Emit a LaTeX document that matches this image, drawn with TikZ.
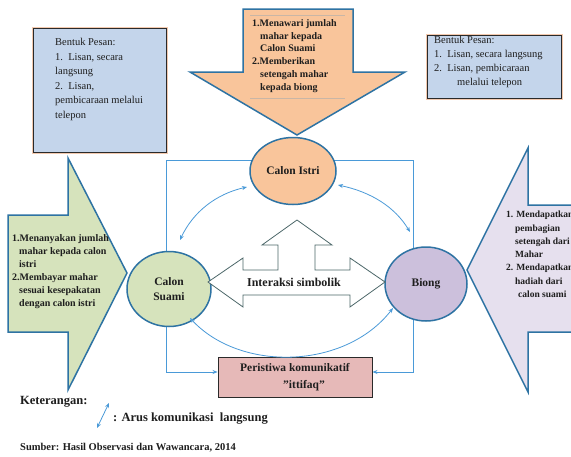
\documentclass[tikz,border=0pt]{standalone}
\usepackage{fontspec}
\setmainfont{Liberation Serif}
\usetikzlibrary{arrows.meta,shapes.geometric,backgrounds}
\definecolor{boxblue}{HTML}{C4D5EB}
\definecolor{boxline}{HTML}{2A2A2A}
\definecolor{glow}{HTML}{F3C9AE}
\definecolor{fillorange}{HTML}{F9C59B}
\definecolor{fillgreen}{HTML}{D6E3BC}
\definecolor{filllav}{HTML}{E6E0EE}
\definecolor{ellav}{HTML}{CCC0DC}
\definecolor{fillpink}{HTML}{E6B9B8}
\definecolor{shapeline}{HTML}{2E73A3}
\definecolor{flow}{HTML}{4A9AD8}
\definecolor{symline}{HTML}{4B6668}
\definecolor{rule}{HTML}{C9B6A6}
\definecolor{ink}{HTML}{1E1E1E}
\begin{document}
\begin{tikzpicture}[x=1pt,y=-1pt,
  bigarrow/.style={line width=1.5pt, draw=shapeline, line join=miter},
  ell/.style={ellipse, draw=shapeline, line width=1.5pt, inner sep=0pt, text=ink,
    font=\fontsize{11.5}{15}\selectfont\bfseries, align=center},
  bluebox/.style={draw=boxline, line width=0.9pt, fill=boxblue},
  flowline/.style={draw=flow, line width=0.8pt},
  twoway/.style={flowline, {Stealth[length=5pt,width=4pt]}-{Stealth[length=5pt,width=4pt]}},
  oneway/.style={flowline, -{Stealth[length=5pt,width=4pt]}},
  txt/.style={inner sep=0pt, anchor=north west, align=left, text=ink},
  boxtxt/.style={txt, font=\fontsize{10.5}{14.5}\selectfont},
  boldtxt/.style={txt, font=\fontsize{10}{12.9}\selectfont\bfseries},
]
\useasboundingbox (0,0) rectangle (571,456);
\clip (0,0) rectangle (571,456);

% big arrows
\draw[bigarrow, fill=fillgreen] (8,215) -- (68,215) -- (68,158) -- (127,273) -- (68,390) -- (68,332) -- (8,332) -- cycle;
\draw[bigarrow, fill=filllav] (590,205) -- (528,205) -- (528,148) -- (467,270) -- (528,392) -- (528,332) -- (590,332);
\draw[bigarrow, fill=fillorange] (243,9) -- (353,9) -- (353,72) -- (405,72) -- (297,135) -- (190,72) -- (243,72) -- cycle;
\draw[rule, line width=0.5pt] (250,15) -- (345,15);
\draw[rule, line width=0.5pt] (250,98) -- (345,98);

% blue boxes
\fill[glow] (31.5,26.5) rectangle (167.5,153.5);
\draw[bluebox] (33,28) rectangle (166,152);
\fill[glow] (425.5,33.5) rectangle (562.5,99.5);
\draw[bluebox] (427,35) rectangle (561,98);

\node[boxtxt] (leftmsg) at (55,38.5) {Bentuk Pesan:\\1.\ \ Lisan, secara\\langsung\\2.\ \ Lisan,\\pembicaraan melalui\\telepon};
\node[txt, font=\fontsize{10.5}{13.7}\selectfont] (rightmsg) at (434,36.5) {Bentuk Pesan:\\1.\ \ Lisan, secara langsung\\2.\ \ Lisan, pembicaraan\\\hspace*{23pt}melalui telepon};

\node[boldtxt] (istrimsg) at (252,19) {1.Menawari jumlah\\\hspace*{8pt}mahar kepada\\\hspace*{8pt}Calon Suami\\2.Memberikan\\\hspace*{8pt}setengah mahar\\\hspace*{8pt}kepada biong};
\node[boldtxt, font=\fontsize{10}{13}\selectfont\bfseries] (suamimsg) at (12,234) {1.Menanyakan jumlah\\\hspace*{7pt}mahar kepada calon\\\hspace*{7pt}istri\\2.Membayar mahar\\\hspace*{7pt}sesuai kesepakatan\\\hspace*{7pt}dengan calon istri};
\node[boldtxt, font=\fontsize{9.5}{13.3}\selectfont\bfseries] (biongmsg) at (506,211) {1. Mendapatkan\\\hspace*{9pt}pembagian\\\hspace*{9pt}setengah dari\\\hspace*{9pt}Mahar\\2. Mendapatkan\\\hspace*{9pt}hadiah dari\\\hspace*{12pt}calon suami};

% main nodes
\node[ell, fill=fillorange, minimum width=86pt, minimum height=67pt] (istri) at (293,171) {Calon Istri};
\node[ell, fill=fillgreen, minimum width=84pt, minimum height=75pt] (suami) at (169,289) {Calon\\Suami};
\node[ell, fill=ellav, minimum width=82pt, minimum height=74pt] (biong) at (426,284) {Biong};
\node[draw=boxline, line width=0.9pt, fill=fillpink, minimum width=154pt, minimum height=40pt, align=center, text=ink,
  font=\fontsize{11.5}{17}\selectfont\bfseries] (peristiwa) at (295,377) {Peristiwa komunikatif\\\hspace*{18pt}"ittifaq"};

% rectangle connector behind ellipses
\coordinate (tl) at (166,160);
\coordinate (bl) at (166,372);
\coordinate (tr) at (413,160);
\coordinate (br) at (413,372);
\begin{scope}[on background layer]
\fill[white] (0,0) rectangle (571,456);
\draw[oneway] (istri.center |- tl) -- (tl) -- (bl) -- (peristiwa.west |- bl);
\draw[oneway] (istri.center |- tr) -- (tr) -- (br) -- (peristiwa.east |- br);
\end{scope}

% interaksi simbolik arrow
\draw[symline, line width=0.8pt, fill=white, line join=miter]
  (208,282) -- (243,258) -- (243,270) -- (278,270) -- (278,245) -- (262,245) -- (297,220)
  -- (332,245) -- (315,245) -- (315,270) -- (350,270) -- (350,258) -- (385,282)
  -- (350,307) -- (350,295) -- (243,295) -- (243,307) -- cycle;
\node[inner sep=0pt, text=ink, font=\fontsize{12}{14}\selectfont\bfseries] (interaksi) at (294,282) {Interaksi simbolik};

% curved two-way flows
\coordinate (a1) at (247,187);
\coordinate (a2) at (180,240);
\coordinate (b1) at (338,185);
\coordinate (b2) at (410,232);
\coordinate (c1) at (190,318);
\coordinate (c2) at (393,308);
\draw[twoway] (a1) .. controls (216,194) and (193,212) .. (a2);
\draw[twoway] (b1) .. controls (371,192) and (395,207) .. (b2);
\draw[twoway] (c1) .. controls (240,372) and (345,370) .. (c2);

% legend
\node[inner sep=0pt, anchor=west, text=ink, font=\fontsize{12.5}{14}\selectfont\bfseries] (ket) at (20,402) {Keterangan:};
\coordinate (l1) at (97,428);
\coordinate (l2) at (109,403);
\draw[twoway] (l1) -- (l2);
\node[inner sep=0pt, anchor=west, text=ink, font=\fontsize{12.5}{14}\selectfont\bfseries] (arus) at (113,419) {: Arus komunikasi\ \ langsung};
\node[inner sep=0pt, anchor=west, text=ink, font=\fontsize{10.5}{12}\selectfont\bfseries] (sumber) at (20,448) {Sumber: Hasil Observasi dan Wawancara, 2014};
\end{tikzpicture}
\end{document}
